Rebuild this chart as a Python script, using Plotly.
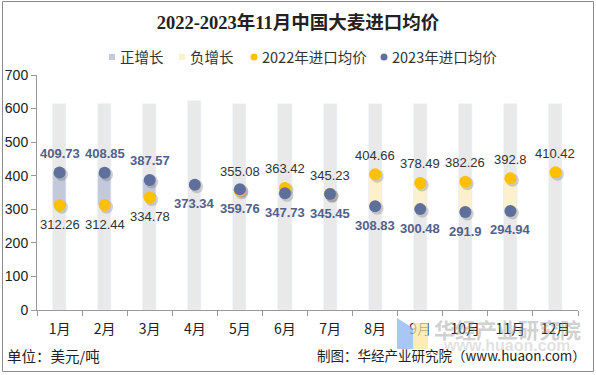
import plotly.graph_objects as go

months = ["1月", "2月", "3月", "4月", "5月", "6月", "7月", "8月", "9月", "10月", "11月", "12月"]
price_2022 = [312.26, 312.44, 334.78, None, 355.08, 363.42, 345.23, 404.66, 378.49, 382.26, 392.8, 410.42]
price_2023 = [409.73, 408.85, 387.57, 373.34, 359.76, 347.73, 345.45, 308.83, 300.48, 291.9, 294.94, None]
background = [615, 615, 615, 623, 615, 615, 615, 615, 615, 615, 615, 615]

# label placement (style): +1 above, -1 below
pos_2022 = [-1, -1, -1, 0, 1, 1, 1, 1, 1, 1, 1, 1]
pos_2023 = [1, 1, 1, -1, -1, -1, -1, -1, -1, -1, -1, 0]

C22 = "#ffc000"
C23 = "#5f6f9c"
CPOS = "#c3c9da"
CNEG = "#fdf0cc"
NUMFONT = "Liberation Sans, Arial, Noto Sans CJK SC"
CJK = "Noto Sans CJK SC, Liberation Sans"

idx = list(range(len(months)))

pos_x, pos_base, pos_h = [], [], []
neg_x, neg_base, neg_h = [], [], []
for i, a, b in zip(idx, price_2022, price_2023):
    if a is None or b is None:
        continue
    if b >= a:
        pos_x.append(i); pos_base.append(a); pos_h.append(b - a)
    else:
        neg_x.append(i); neg_base.append(b); neg_h.append(a - b)

# shadow offset (style): ~2px right / down
SDX, SDY = 0.045, 6

def shadow(vals):
    xs, ys = [], []
    for i, v in zip(idx, vals):
        if v is None:
            continue
        xs.append(i + SDX); ys.append(v - SDY)
    return xs, ys

fig = go.Figure()
fig.add_trace(go.Bar(x=idx, y=background, marker_color="#e9e9e9", width=0.29,
                     showlegend=False, hoverinfo="skip"))
fig.add_trace(go.Bar(x=pos_x, y=pos_h, base=pos_base, marker_color=CPOS, width=0.29,
                     name="正增长", showlegend=False))
fig.add_trace(go.Bar(x=neg_x, y=neg_h, base=neg_base, marker_color=CNEG, width=0.29,
                     name="负增长", showlegend=False))
for vals in (price_2022, price_2023):
    sx, sy = shadow(vals)
    fig.add_trace(go.Scatter(x=sx, y=sy, mode="markers", showlegend=False, hoverinfo="skip",
                             marker=dict(color="rgba(60,60,60,0.22)", size=13)))
fig.add_trace(go.Scatter(x=idx, y=price_2022, mode="markers", name="2022年进口均价",
                         marker=dict(color=C22, size=12), showlegend=False))
fig.add_trace(go.Scatter(x=idx, y=price_2023, mode="markers", name="2023年进口均价",
                         marker=dict(color=C23, size=12), showlegend=False))

annotations = []
for i, v, p in zip(idx, price_2022, pos_2022):
    if v is None or p == 0:
        continue
    annotations.append(dict(x=i, y=v, text=f"{v:g}", showarrow=False, yshift=19 * p,
                            font=dict(family=NUMFONT, size=13, color="#333333")))
for i, v, p in zip(idx, price_2023, pos_2023):
    if v is None or p == 0:
        continue
    annotations.append(dict(x=i, y=v, text=f"<b>{v:g}</b>", showarrow=False, yshift=19 * p,
                            font=dict(family=NUMFONT, size=13, color="#52618a")))

def px(x):
    return (x - 37) / 541

def py(y):
    return (310 - y) / 235

# custom compact legend
legend_items = [
    ("正增长", "square", CPOS, 112, 118),
    ("负增长", "square", CNEG, 182, 188),
    ("2022年进口均价", "circle", C22, 254, 260),
    ("2023年进口均价", "circle", C23, 384, 390),
]
shapes = []
LY = 57
for label, kind, col, mx, tx in legend_items:
    if kind == "square":
        shapes.append(dict(type="rect", xref="paper", yref="paper", x0=px(mx - 3), x1=px(mx + 3),
                           y0=py(LY + 3), y1=py(LY - 3), fillcolor=col, line=dict(width=0)))
    else:
        shapes.append(dict(type="circle", xref="paper", yref="paper", x0=px(mx - 3.5), x1=px(mx + 3.5),
                           y0=py(LY + 3.5), y1=py(LY - 3.5), fillcolor=col, line=dict(width=0)))
    annotations.append(dict(xref="paper", yref="paper", x=px(tx), y=py(LY), xanchor="left",
                            yanchor="middle", text=label, showarrow=False,
                            font=dict(family=CJK, size=14.5, color="#333333")))

# watermark
annotations.append(dict(xref="paper", yref="paper", x=px(507), y=py(329), xanchor="center",
                        yanchor="middle", text="<b>华经产业研究院</b>", showarrow=False,
                        font=dict(family=CJK, size=21, color="rgba(150,150,150,0.45)")))
annotations.append(dict(xref="paper", yref="paper", x=px(507), y=py(345), xanchor="center",
                        yanchor="middle", text="<b>www.huaon.com</b>", showarrow=False,
                        font=dict(family=NUMFONT, size=16, color="rgba(170,170,170,0.35)")))
annotations.append(dict(xref="paper", yref="paper", x=px(5), y=py(355),
                        xanchor="left", yanchor="middle", text="单位：美元/吨", showarrow=False,
                        font=dict(family=CJK, size=14.5, color="#222222")))
annotations.append(dict(xref="paper", yref="paper", x=px(588), y=py(355),
                        xanchor="right", yanchor="middle",
                        text="制图：华经产业研究院（www.huaon.com）", showarrow=False,
                        font=dict(family=CJK, size=13.5, color="#222222")))

shapes += [
    dict(type="rect", xref="paper", yref="paper", x0=px(2.5), x1=px(593.5), y0=py(371.5), y1=py(1.5),
         line=dict(color="#8c8c8c", width=1), layer="above"),
    dict(type="path", xref="paper", yref="paper",
         path=f"M {px(397)},{py(318)} L {px(413)},{py(328)} L {px(413)},{py(349)} L {px(397)},{py(349)} Z",
         fillcolor="rgba(140,180,240,0.75)", line=dict(width=0), layer="above"),
    dict(type="rect", xref="paper", yref="paper", x0=px(413), x1=px(428), y0=py(349), y1=py(323),
         fillcolor="rgba(253,230,160,0.75)", line=dict(width=0), layer="above"),
]

fig.update_layout(
    width=596, height=375,
    margin=dict(l=37, r=18, t=75, b=65, autoexpand=False),
    paper_bgcolor="white", plot_bgcolor="white",
    barmode="overlay", bargap=0,
    showlegend=False,
    title=dict(text="<b>2022-2023年11月中国大麦进口均价</b>", x=0.5, xanchor="center",
               y=1 - 23 / 375, yanchor="middle",
               font=dict(family="Liberation Serif, Noto Sans CJK SC", size=18.5, color="#222222")),
    xaxis=dict(range=[-0.5, 11.5], tickmode="array", tickvals=idx, ticktext=months,
               showline=True, linecolor="#999999", linewidth=1, ticks="",
               ticklabelstandoff=6,
               minor=dict(ticks="outside", tick0=-0.5, dtick=1, ticklen=5, tickcolor="#999999",
                          showgrid=False),
               tickfont=dict(family=CJK, size=14, color="#222222"), showgrid=False,
               zeroline=False, automargin=False),
    yaxis=dict(range=[0, 700], dtick=100, showline=True, linecolor="#999999", linewidth=1,
               ticks="outside", ticklen=5, tickcolor="#999999", showgrid=False, zeroline=False,
               tickfont=dict(family=NUMFONT, size=14, color="#222222"), automargin=False),
    annotations=annotations,
    shapes=shapes,
)

fig.write_html("out.html", config={"displayModeBar": False},
               post_script="document.body.style.margin='0px';")
